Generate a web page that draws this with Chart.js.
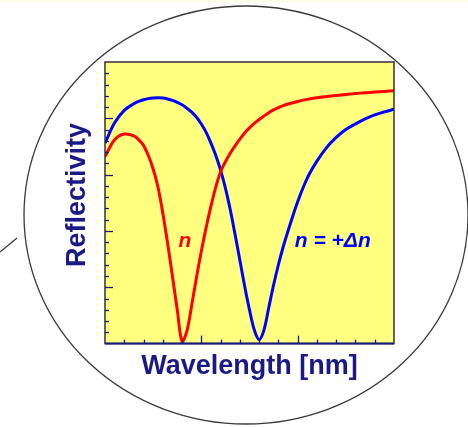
<!DOCTYPE html>
<html>
<head>
<meta charset="utf-8">
<script src="https://cdn.jsdelivr.net/npm/chart.js@4.4.1/dist/chart.umd.min.js"></script>
<style>
  html, body { margin: 0; padding: 0; background: #fff; }
</style>
</head>
<body>
<canvas id="myChart" width="468" height="427"></canvas>
<script>
// wavelength positions (arbitrary units, axis 0..15)
var wavelength = [0, 0.5, 1, 1.5, 1.75, 2, 2.25, 2.5, 2.75, 3, 3.25, 3.5, 3.75, 4, 4.25, 4.5, 4.75,
  5, 5.25, 5.5, 5.75, 6, 6.25, 6.5, 6.75, 7, 7.25, 7.5, 7.75, 8, 8.25, 8.5, 8.75,
  9, 9.25, 9.5, 10, 10.5, 11, 11.5, 12, 12.5, 13, 13.5, 14, 14.5, 15];

// reflectivity, index n (red)
var reflN = [16.6, 18.1, 18.6, 18.45, 18.1, 17.6, 16.7, 15.5, 13.9, 11.6, 8.9, 6.0, 3.0, 0.2, 1.1, 3.4, 5.9,
  8.2, 10.3, 12.2, 13.9, 15.25, 16.15, 16.9, 17.55, 18.15, 18.7, 19.15, 19.55, 19.9, 20.2, 20.5, 20.75,
  20.95, 21.12, 21.27, 21.5, 21.68, 21.82, 21.93, 22.03, 22.12, 22.2, 22.27, 22.33, 22.39, 22.45];

// reflectivity, index n + dn (blue)
var reflDn = [17.8, 19.6, 20.7, 21.3, 21.5, 21.65, 21.75, 21.8, 21.82, 21.8, 21.72, 21.6, 21.42, 21.2, 20.9, 20.55, 20.1,
  19.5, 18.75, 17.8, 16.7, 15.4, 13.8, 11.9, 9.7, 7.4, 5.1, 3.0, 1.2, 0.35, 1.2, 3.2, 5.2,
  7.0, 8.6, 10.0, 12.6, 14.7, 16.2, 17.4, 18.3, 19.0, 19.5, 19.95, 20.3, 20.57, 20.8];

var xRange = [0, 15];
var yRange = [0, 25];
var majorEvery = 5;

var xTitle = 'Wavelength [nm]';
var yTitle = 'Reflectivity';

// curve labels, in data units
var curveLabels = [
  { x: 4.15, y: 9.1, text: 'n', color: '#ff0000', align: 'center' },
  { x: 9.85, y: 9.1, text: 'n = +\u0394n', color: '#0000ff', align: 'left' }
];

var navy = '#1a1a86';
var fontFamily = '"Liberation Sans", Arial, sans-serif';

var toPoints = function (ys) {
  return wavelength.map(function (w, i) { return { x: w, y: ys[i] }; });
};

var decor = {
  id: 'decor',
  beforeDraw: function (chart) {
    var ctx = chart.ctx, a = chart.chartArea;
    ctx.save();
    ctx.fillStyle = '#fff';
    ctx.fillRect(0, 0, chart.width, chart.height);
    ctx.fillStyle = '#fffce6';
    ctx.fillRect(0, 0, chart.width, 2);
    // magnifier circle and its handle
    ctx.strokeStyle = '#3a3a3a';
    ctx.lineWidth = 1.3;
    ctx.beginPath();
    ctx.ellipse(246, 215, 222, 209, 0, 0, Math.PI * 2);
    ctx.stroke();
    ctx.beginPath();
    ctx.moveTo(0, 252);
    ctx.lineTo(17, 238);
    ctx.stroke();
    // yellow plot background
    ctx.fillStyle = '#ffff80';
    ctx.fillRect(a.left, a.top, a.right - a.left, a.bottom - a.top);
    ctx.restore();
  },
  afterDatasetsDraw: function (chart) {
    var ctx = chart.ctx, a = chart.chartArea;
    var xs = chart.scales.x, ys = chart.scales.y;
    ctx.save();
    // frame
    ctx.strokeStyle = '#333';
    ctx.lineWidth = 1.5;
    ctx.strokeRect(a.left, a.top, a.right - a.left, a.bottom - a.top);
    ctx.strokeStyle = navy;
    ctx.lineWidth = 2;
    ctx.beginPath();
    ctx.moveTo(a.left, a.bottom);
    ctx.lineTo(a.right, a.bottom);
    ctx.stroke();
    // inward ticks
    ctx.lineWidth = 1.3;
    xs.ticks.forEach(function (t) {
      if (t.value <= xRange[0] || t.value >= xRange[1]) return;
      var px = Math.round(xs.getPixelForValue(t.value)) + 0.5;
      var len = t.value % majorEvery === 0 ? 8 : 4;
      ctx.beginPath();
      ctx.moveTo(px, a.bottom);
      ctx.lineTo(px, a.bottom - len);
      ctx.stroke();
    });
    ys.ticks.forEach(function (t) {
      if (t.value <= yRange[0] || t.value >= yRange[1]) return;
      var py = Math.round(ys.getPixelForValue(t.value)) + 0.5;
      var len = t.value % majorEvery === 0 ? 8 : 4;
      ctx.beginPath();
      ctx.moveTo(a.left, py);
      ctx.lineTo(a.left + len, py);
      ctx.stroke();
    });
    // y axis title, a little above the middle as in the original
    ctx.fillStyle = navy;
    ctx.font = 'bold 27px ' + fontFamily;
    ctx.textAlign = 'center';
    ctx.textBaseline = 'alphabetic';
    ctx.translate(a.left - 20.5, a.top + (a.bottom - a.top) * 0.472);
    ctx.rotate(-Math.PI / 2);
    ctx.fillText(yTitle, 0, 0);
    ctx.setTransform(1, 0, 0, 1, 0, 0);
    // curve labels
    ctx.font = 'italic bold 21px ' + fontFamily;
    ctx.textBaseline = 'middle';
    curveLabels.forEach(function (l) {
      ctx.fillStyle = l.color;
      ctx.textAlign = l.align;
      ctx.fillText(l.text, xs.getPixelForValue(l.x), ys.getPixelForValue(l.y));
    });
    ctx.restore();
  }
};

new Chart('myChart', {
  type: 'line',
  data: {
    datasets: [{
      label: 'n',
      data: toPoints(reflN),
      borderColor: '#ff0000',
      borderWidth: 3,
      pointRadius: 0,
      tension: 0.35,
      fill: false
    }, {
      label: 'n = +\u0394n',
      data: toPoints(reflDn),
      borderColor: '#0000ff',
      borderWidth: 3,
      pointRadius: 0,
      tension: 0.35,
      fill: false
    }]
  },
  options: {
    responsive: false,
    animation: false,
    layout: { padding: { left: 105, right: 74, top: 62, bottom: 44 } },
    plugins: {
      legend: { display: false },
      tooltip: { enabled: false }
    },
    scales: {
      x: {
        type: 'linear',
        min: xRange[0],
        max: xRange[1],
        ticks: { stepSize: 1, display: false },
        grid: { display: false, drawTicks: false },
        border: { display: false },
        title: {
          display: true, text: xTitle, color: navy,
          font: { family: fontFamily, size: 27, weight: 'bold' },
          padding: { top: 7, bottom: 0 }
        }
      },
      y: {
        min: yRange[0],
        max: yRange[1],
        ticks: { stepSize: 1, display: false },
        grid: { display: false, drawTicks: false },
        border: { display: false }
      }
    }
  },
  plugins: [decor]
});
</script>
</body>
</html>
